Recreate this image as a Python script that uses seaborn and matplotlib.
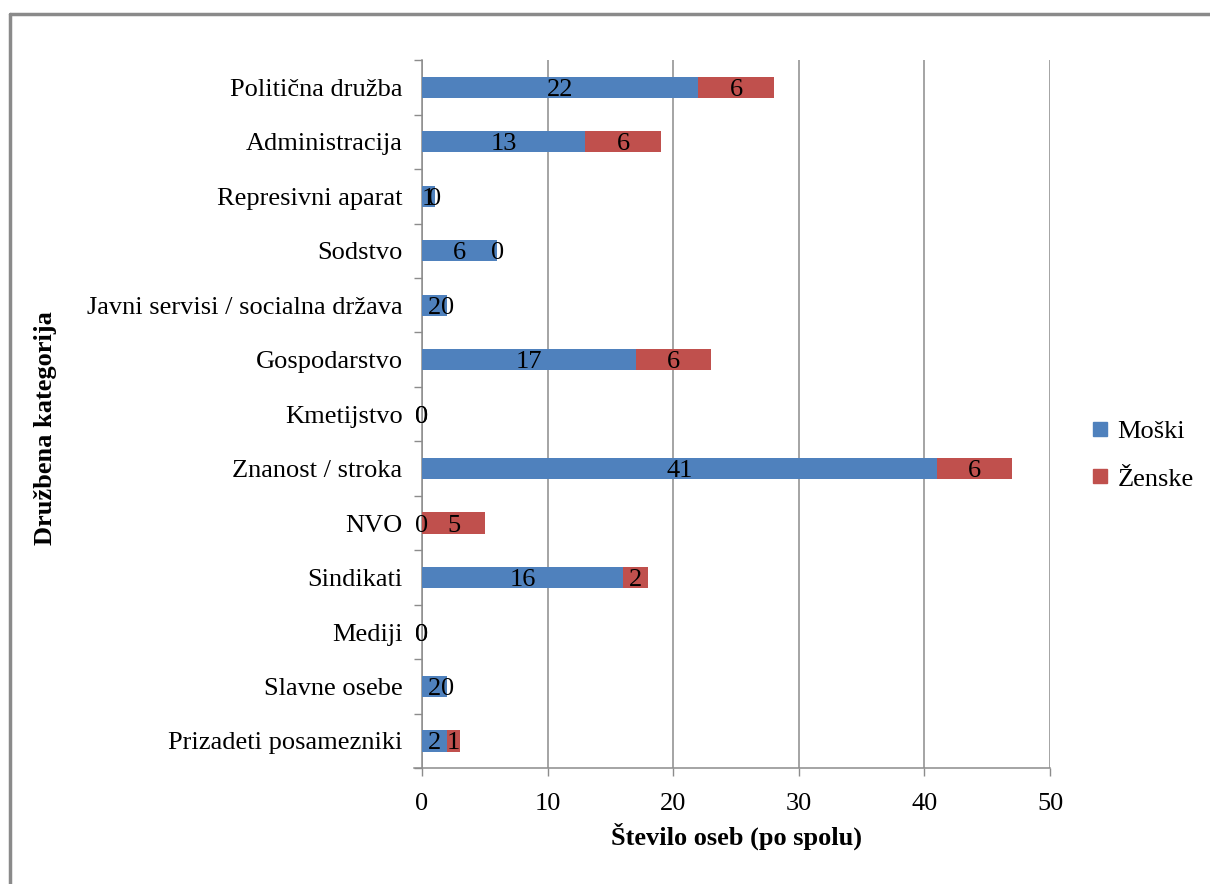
import matplotlib
matplotlib.use("Agg")
import matplotlib.pyplot as plt
from matplotlib.lines import Line2D
from matplotlib.ticker import FixedLocator
import seaborn as sns
import pandas as pd
import numpy as np

categories = [
    "Politična družba", "Administracija", "Represivni aparat", "Sodstvo",
    "Javni servisi / socialna država", "Gospodarstvo", "Kmetijstvo",
    "Znanost / stroka", "NVO", "Sindikati", "Mediji", "Slavne osebe",
    "Prizadeti posamezniki",
]
moski = [22, 13, 1, 6, 2, 17, 0, 41, 0, 16, 0, 2, 2]
zenske = [6, 6, 0, 0, 0, 6, 0, 6, 5, 2, 0, 0, 1]

blue = "#4F81BD"
red = "#C0504D"
grid_c = "#8C8C8C"
FS = 19

sns.set_theme(style="white")
plt.rcParams["font.family"] = ["Liberation Serif", "DejaVu Serif"]
plt.rcParams["text.color"] = "black"
plt.rcParams["xtick.color"] = "black"
plt.rcParams["ytick.color"] = "black"

df = pd.DataFrame({"kat": categories, "Moški": moski, "Ženske": zenske})
df["skupaj"] = df["Moški"] + df["Ženske"]

fig = plt.figure(figsize=(12.10, 8.84), dpi=100)
ax = fig.add_axes([0.3488, 0.131, 0.5190, 0.801])

# stacked bars: total in red underneath, men in blue on top
sns.barplot(data=df, y="kat", x="skupaj", color=red, orient="h",
            width=0.39, saturation=1, linewidth=0, ax=ax, zorder=3)
sns.barplot(data=df, y="kat", x="Moški", color=blue, orient="h",
            width=0.39, saturation=1, linewidth=0, ax=ax, zorder=4)

# value labels in the middle of each segment
for i, (m, f) in enumerate(zip(moski, zenske)):
    ax.text(m / 2, i, str(m), ha="center", va="center_baseline",
            fontsize=FS, color="black", zorder=6)
    ax.text(m + f / 2, i, str(f), ha="center", va="center_baseline",
            fontsize=FS, color="black", zorder=6)

ax.set_xlim(0, 50)
ax.set_ylim(len(categories) - 0.5, -0.5)
ax.set_xticks(np.arange(0, 51, 10))
ax.tick_params(axis="x", labelsize=FS, length=6, width=1, color=grid_c,
               labelcolor="black", direction="out", pad=12, bottom=True)
ax.tick_params(axis="y", which="major", labelsize=FS, length=0, pad=14,
               labelcolor="black")
ax.yaxis.set_minor_locator(FixedLocator(np.arange(-0.5, len(categories), 1.0)))
ax.tick_params(axis="y", which="minor", length=6, width=1, color=grid_c,
               direction="out", left=True)

ax.grid(axis="x", color=grid_c, linewidth=1.1, zorder=0)
ax.grid(axis="y", visible=False)
ax.set_axisbelow(True)

for s in ("top", "right"):
    ax.spines[s].set_visible(False)
for s in ("left", "bottom"):
    ax.spines[s].set_color(grid_c)
    ax.spines[s].set_linewidth(1.1)
ax.spines["bottom"].set_bounds(-0.65, 50)

ax.set_xlabel("Število oseb (po spolu)", fontsize=FS, fontweight="bold",
              labelpad=5, color="black")
ax.set_ylabel("")
fig.text(0.038, 0.516, "Družbena kategorija", rotation=90, ha="center",
         va="center", fontsize=FS, fontweight="bold", color="black")

handles = [
    Line2D([], [], marker="s", linestyle="none", markersize=10,
           markerfacecolor=blue, markeredgecolor=blue),
    Line2D([], [], marker="s", linestyle="none", markersize=10,
           markerfacecolor=red, markeredgecolor=red),
]
fig.legend(handles, ["Moški", "Ženske"], loc="center left",
           bbox_to_anchor=(0.882, 0.485), frameon=False, fontsize=FS,
           handlelength=0.7, handletextpad=0.3, labelspacing=0.9)

# outer chart frame (top and left edges)
fig.add_artist(Line2D([10 / 1210, 1.0], [1 - 14 / 884, 1 - 14 / 884],
                      transform=fig.transFigure, color="#8A8A8A", lw=2.5))
fig.add_artist(Line2D([10 / 1210, 10 / 1210], [0.0, 1 - 14 / 884],
                      transform=fig.transFigure, color="#8A8A8A", lw=2.5))

fig.savefig("out.png", dpi=100, facecolor="white")
